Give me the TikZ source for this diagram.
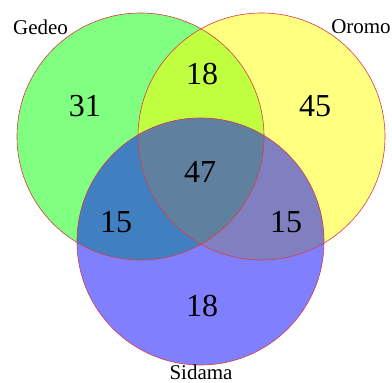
\documentclass[tikz,border=0pt]{standalone}
\usepackage{fontspec}
\setmainfont{Liberation Serif}
\definecolor{cg}{RGB}{128,255,128}
\definecolor{cy}{RGB}{255,255,128}
\definecolor{cb}{RGB}{128,128,255}
\definecolor{cgy}{RGB}{191,255,64}
\definecolor{cgb}{RGB}{64,128,192}
\definecolor{cyb}{RGB}{128,128,192}
\definecolor{cgyb}{RGB}{96,128,160}
\definecolor{edge}{RGB}{215,60,70}
\tikzset{
  num/.style={font=\fontsize{32}{32}\selectfont, inner sep=0pt},
  setlabel/.style={font=\fontsize{21}{21}\selectfont, inner sep=0pt},
  rim/.style={draw=edge, line width=0.6pt}
}
\begin{document}
\begin{tikzpicture}[x=1pt,y=-1pt]
\useasboundingbox (0,0) rectangle (392,383);
\def\R{123.5}
\coordinate (cG) at (140.5,136.5);
\coordinate (cO) at (261.5,136.5);
\coordinate (cS) at (200.5,241.5);
\fill[cg] (cG) circle (\R);
\fill[cy] (cO) circle (\R);
\fill[cb] (cS) circle (\R);
\begin{scope}
  \clip (cG) circle (\R);
  \fill[cgy] (cO) circle (\R);
  \fill[cgb] (cS) circle (\R);
\end{scope}
\begin{scope}
  \clip (cO) circle (\R);
  \fill[cyb] (cS) circle (\R);
\end{scope}
\begin{scope}
  \clip (cG) circle (\R);
  \clip (cO) circle (\R);
  \fill[cgyb] (cS) circle (\R);
\end{scope}
\draw[rim] (cG) circle (\R);
\draw[rim] (cO) circle (\R);
\draw[rim] (cS) circle (\R);
\node[setlabel] (lg) at (40.5,27) {Gedeo};
\node[setlabel] (lo) at (361,27) {Oromo};
\node[setlabel] (ls) at (201,372) {Sidama};
\node[num] (n31) at (85,106) {31};
\node[num] (n18a) at (202,74) {18};
\node[num] (n45) at (315,106) {45};
\node[num] (n47) at (200,172) {47};
\node[num] (n15a) at (116,222) {15};
\node[num] (n15b) at (286,222) {15};
\node[num] (n18b) at (202,306) {18};
\end{tikzpicture}
\end{document}
